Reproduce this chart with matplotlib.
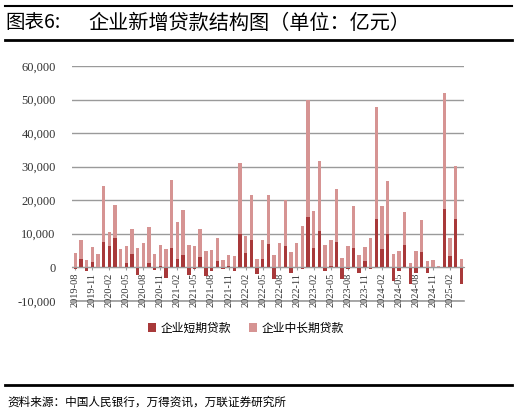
import numpy as np
import matplotlib
matplotlib.use("Agg")
import matplotlib.pyplot as plt
from matplotlib.lines import Line2D

plt.rcParams["font.family"] = ["Noto Sans CJK SC", "DejaVu Sans"]

# 月份：2019-08 至 2025-04
months = []
for y in range(2019, 2026):
    for m in range(1, 13):
        if (y == 2019 and m < 8) or (y == 2025 and m > 4):
            continue
        months.append(f"{y}-{m:02d}")

# 企业短期贷款（亿元）
short_loans = [
    -400, 2600, -1100, 1600, -200,
    7650, 6450, 8750, 100, 1200, 4100, -2400, 200, 1200, -700, 400, -3100,
    5650, 2600, 3700, -2200, -600, 3100, -2600, -1200, 1900, -400, 300, -1000,
    9950, 4200, 8150, -2000, 2600, 6950, -3400, 100, 6450, -1800, 100, -400,
    15100, 5650, 10830, -1100, 400, 7450, -3600, -400, 5650, -1700, 1900, -600,
    14500, 5370, 9840, -4080, -1100, 6760, -5070, -1800, 4570, -1800, 100, 0,
    17500, 3380, 14400, -4870,
]

# 企业中长期贷款（亿元）
long_loans = [
    4270, 5650, 2200, 4300, 3900,
    16700, 4200, 9750, 5350, 5250, 7230, 5850, 7050, 10700, 4100, 6150, 5450,
    20400, 11000, 13400, 6650, 6450, 8300, 4970, 5250, 6850, 2200, 3500, 3400,
    21050, 5150, 13400, 2600, 5650, 14520, 3580, 7150, 13550, 4570, 7150, 12230,
    34900, 11150, 20870, 6650, 7650, 15910, 2700, 6450, 12550, 3700, 4060, 8650,
    33200, 12830, 15810, 4080, 4970, 9740, 1400, 4970, 9530, 1800, 2100, 300,
    34500, 5270, 15700, 2580,
]

short_loans = np.array(short_loans)
long_loans = np.array(long_loans)
x = np.arange(len(months))

dark = "#A8393A"
light = "#D69493"
grid_c = "#9a9a9a"

fig = plt.figure(figsize=(5.17, 4.16), dpi=100)
ax = fig.add_axes([0.140, 0.277, 0.758, 0.564])

ax.bar(x, long_loans, width=0.6, bottom=np.maximum(short_loans, 0),
       color=light, label="企业中长期贷款", zorder=2)
ax.bar(x, short_loans, width=0.6, color=dark, label="企业短期贷款", zorder=3)

for s in ["top", "right", "left"]:
    ax.spines[s].set_visible(False)
ax.spines["bottom"].set_position(("data", 0))
ax.spines["bottom"].set_color(grid_c)
ax.spines["bottom"].set_zorder(4)

ax.set_xlim(-0.5, len(months) - 0.5)
ax.set_ylim(-10000, 60000)
ax.set_yticks(np.arange(-10000, 60001, 10000))
ax.set_yticklabels([f"{v:,}" for v in range(-10000, 60001, 10000)],
                   family="Liberation Serif", fontsize=9, color="#333333")
ax.yaxis.grid(True, color=grid_c, linewidth=1, zorder=0)
ax.axhline(-10000, color=grid_c, linewidth=1.2, clip_on=False, zorder=0)
ax.tick_params(axis="y", length=0, pad=12)

ax.set_xticks(x[::3])
ax.set_xticklabels(months[::3], rotation=90, family="Liberation Serif",
                   fontsize=7.5, color="#333333")
ax.tick_params(axis="x", length=2, color=grid_c, pad=2)

handles, labels = ax.get_legend_handles_labels()
fig.legend(handles[::-1], labels[::-1], loc="center", ncol=2, frameon=False,
           bbox_to_anchor=(246 / 517, 1 - 328 / 416), fontsize=8.5,
           handlelength=0.7, handleheight=0.7, columnspacing=1.5,
           handletextpad=0.4)

# 标题与来源
fig.add_artist(Line2D([0.01, 0.99], [1 - 6 / 416] * 2, color="black", lw=1.5,
                      transform=fig.transFigure))
fig.add_artist(Line2D([0.01, 0.99], [1 - 40 / 416] * 2, color="black", lw=2,
                      transform=fig.transFigure))
fig.text(5 / 517, 1 - 23 / 416, "图表6:", fontsize=14, va="center", ha="left")
fig.text(88 / 517, 1 - 23 / 416, "企业新增贷款结构图（单位：亿元）",
         fontsize=14.5, va="center", ha="left")
fig.add_artist(Line2D([0.01, 0.99], [1 - 384.5 / 416] * 2, color="black", lw=2,
                      transform=fig.transFigure))
fig.text(0.015, 1 - 402 / 416, "资料来源：中国人民银行，万得资讯，万联证券研究所",
         fontsize=8.4, va="center", ha="left", style="italic")

fig.savefig("out.png", dpi=100)
